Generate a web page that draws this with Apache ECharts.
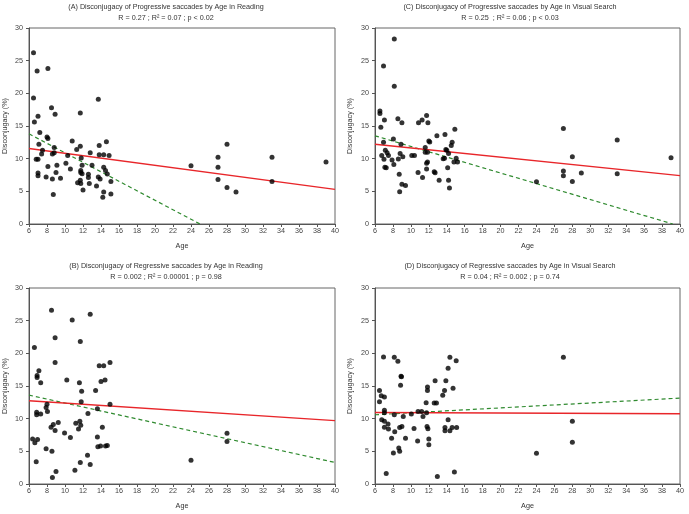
<!DOCTYPE html>
<html><head><meta charset="utf-8">
<script src="https://cdn.jsdelivr.net/npm/echarts@6/dist/echarts.min.js"></script>
<style>html,body{margin:0;padding:0;background:#fff}#c{width:689px;height:514px}</style>
</head><body><div id="c"></div><script>
// ---- data ----
const xTicks = [6, 40, 2];       // min, max, step (Age)
const yTicks = [0, 30, 5];       // min, max, step (Disconjugacy %)

const titlesA = ['(A) Disconjugacy of Progressive saccades by Age in Reading', 'R = 0.27 ; R\u00b2 = 0.07 ; p < 0.02'];
const titlesB = ['(B) Disconjugacy of Regressive saccades by Age in Reading', 'R = 0.002 ; R\u00b2 = 0.00001 ; p = 0.98'];
const titlesC = ['(C) Disconjugacy of Progressive saccades by Age in Visual Search', 'R = 0.25  ; R\u00b2 = 0.06 ; p < 0.03'];
const titlesD = ['(D) Disconjugacy of Regressive saccades by Age in Visual Search', 'R = 0.04 ; R\u00b2 = 0.002 ; p = 0.74'];

const pointsA = [[6.5,26.2],[6.9,23.4],[8.1,23.8],[6.5,19.3],[13.7,19.1],[8.5,17.8],[8.9,16.8],[11.7,17.0],[7.0,16.5],[6.6,15.6],[7.2,14.0],[8.0,13.3],[8.1,13.1],[7.1,12.2],[8.8,11.7],[10.8,12.7],[11.7,11.9],[14.6,12.6],[13.8,12.0],[7.5,11.3],[11.3,11.4],[7.4,10.7],[8.6,10.7],[8.8,10.9],[10.3,10.5],[12.8,10.9],[13.8,10.6],[14.3,10.6],[14.9,10.5],[11.8,10.1],[6.8,9.9],[7.0,9.9],[10.1,9.3],[13.0,9.0],[9.1,9.0],[8.1,8.8],[11.9,9.0],[14.3,8.7],[10.6,8.4],[14.5,8.2],[9.0,7.9],[11.75,8.2],[11.9,7.7],[11.75,7.9],[7.0,7.8],[7.0,7.4],[7.9,7.2],[9.5,7.0],[8.6,6.9],[12.6,7.6],[12.6,7.1],[13.7,7.2],[14.7,7.65],[13.9,6.9],[11.4,6.3],[11.7,6.7],[11.75,6.2],[12.7,6.2],[15.1,6.5],[13.5,5.8],[12.0,5.2],[8.7,4.5],[14.3,4.9],[15.1,4.6],[14.2,4.1],[24,8.9],[27,10.2],[27,8.7],[27,6.8],[28,12.2],[28,5.6],[29,4.9],[33,10.2],[33,6.5],[39,9.5]];
const pointsC = [[8.15,28.3],[6.95,24.2],[8.15,21.1],[6.55,17.3],[6.55,16.9],[7.05,15.9],[6.65,14.8],[8.55,16.1],[9.0,15.5],[10.85,15.5],[11.25,15.9],[11.75,16.6],[11.9,15.5],[8.05,13.0],[8.9,12.2],[6.95,12.5],[12.9,13.5],[13.8,13.7],[14.9,14.5],[12.0,12.7],[12.1,12.55],[14.6,12.5],[14.5,12.0],[7.15,11.3],[7.35,10.9],[11.6,11.7],[13.9,11.4],[14.0,11.3],[11.6,11.0],[11.85,11.0],[14.2,10.8],[7.5,10.5],[6.75,10.5],[7.0,9.9],[8.8,10.8],[9.1,10.3],[10.1,10.5],[10.4,10.5],[13.6,10.0],[13.75,10.05],[7.9,9.8],[8.1,9.1],[8.6,9.95],[15.05,10.05],[14.8,9.5],[15.2,9.5],[11.75,9.3],[11.85,9.5],[7.1,8.7],[7.25,8.6],[11.75,8.4],[14.1,8.6],[10.8,7.9],[12.6,8.0],[12.7,7.85],[8.7,7.6],[11.3,7.1],[13.15,6.7],[14.2,6.7],[9.0,6.1],[9.4,5.9],[14.3,5.5],[8.75,4.95],[24,6.45],[27,14.6],[27,8.1],[27,7.4],[28,10.3],[28,6.5],[29,7.8],[33,12.85],[33,7.7],[39,10.15]];
const pointsB = [[8.5,26.6],[10.8,25.1],[12.8,26.0],[8.9,22.4],[11.7,21.8],[6.6,20.9],[8.9,18.6],[13.8,18.1],[14.3,18.1],[15.0,18.6],[7.1,17.35],[6.9,16.6],[6.9,16.3],[7.3,15.5],[10.2,15.9],[11.6,15.5],[11.85,14.2],[14.0,15.7],[14.45,15.9],[13.4,14.3],[11.8,12.6],[15.0,12.2],[8.0,12.2],[7.9,11.7],[8.05,11.1],[6.85,11.0],[6.85,10.6],[7.3,10.7],[13.6,11.5],[12.55,10.8],[11.65,9.6],[11.2,9.3],[9.25,9.4],[8.7,9.1],[11.75,9.0],[8.45,8.7],[14.15,8.7],[11.5,8.4],[8.9,8.2],[9.95,7.8],[10.6,7.1],[13.6,7.2],[6.4,6.9],[6.95,6.8],[6.65,6.3],[13.65,5.7],[13.95,5.8],[14.5,5.8],[14.7,5.9],[7.9,5.4],[8.55,5.0],[12.5,4.4],[6.8,3.4],[11.7,3.3],[12.8,3.0],[11.1,2.1],[9.0,1.9],[8.6,1.0],[24,3.65],[28,7.75],[28,6.5]];
const pointsD = [[6.5,14.3],[6.7,13.5],[7.05,13.3],[6.5,12.6],[7.05,11.3],[7.05,10.9],[6.75,9.85],[7.05,9.6],[7.45,9.2],[7.05,8.7],[7.5,8.4],[8.15,10.6],[7.85,7.0],[8.2,8.0],[8.05,4.75],[8.65,5.5],[8.75,5.0],[8.75,8.65],[9.0,8.8],[9.15,10.35],[8.9,16.5],[8.95,16.4],[8.85,15.1],[9.4,7.0],[10.05,10.7],[10.35,8.5],[10.75,6.6],[10.8,11.1],[11.2,11.1],[11.35,10.35],[11.7,12.45],[11.75,10.9],[11.8,8.8],[11.9,8.45],[11.85,14.85],[11.85,14.3],[12.0,6.9],[12.0,6.0],[12.7,15.8],[12.6,12.4],[12.85,12.4],[12.95,1.15],[13.55,13.6],[13.75,14.3],[13.9,15.8],[13.8,8.65],[13.8,8.15],[14.15,9.85],[14.35,8.15],[14.6,8.65],[14.7,14.65],[14.85,1.85],[15.1,8.65],[7.25,1.6],[6.95,19.45],[8.15,19.4],[8.55,18.8],[14.15,17.7],[14.35,19.4],[15.05,18.85],[24,4.7],[27,19.4],[28,9.6],[28,6.4]];

// regression lines (endpoints in data units)
const redA = [[6,11.55],[40,5.3]],  greenA = [[6,13.8],[25,0]];
const redB = [[6,12.75],[40,9.7]],  greenB = [[6,13.6],[40,3.3]];
const redC = [[6,12.2],[40,7.4]],   greenC = [[6,13.5],[39.2,0]];
const redD = [[6,10.95],[40,10.75]],greenD = [[6,10.6],[40,13.15]];

// ---- layout ----
const FONT = 'Liberation Sans, Arial, sans-serif';
const FS = 7.2;
const panels = [
  {grid:{left:29, top:28, width:306, height:196}, titles:titlesA, tx:166, ty:7, pts:pointsA, red:redA, green:greenA, ng:20},
  {grid:{left:375, top:28, width:305, height:196}, titles:titlesC, tx:510, ty:7, pts:pointsC, red:redC, green:greenC, ng:21},
  {grid:{left:29, top:288, width:306, height:196}, titles:titlesB, tx:166, ty:266, pts:pointsB, red:redB, green:greenB, ng:20},
  {grid:{left:375, top:288, width:305, height:196}, titles:titlesD, tx:510, ty:266, pts:pointsD, red:redD, green:greenD, ng:21}
];

const grids = [], xAxes = [], yAxes = [], series = [], graphics = [];
panels.forEach((p, i) => {
  grids.push(Object.assign({show:true, borderColor:'#666', borderWidth:1, backgroundColor:'#fff'}, p.grid));
  xAxes.push({type:'value', gridIndex:i, min:xTicks[0], max:xTicks[1], interval:xTicks[2],
    name:'Age', nameLocation:'middle', nameGap:19,
    nameTextStyle:{fontSize:FS, color:'#333', fontFamily:FONT},
    axisLine:{show:true, lineStyle:{color:'#555', width:1}},
    axisTick:{show:true, length:3, lineStyle:{color:'#555'}},
    axisLabel:{fontSize:FS, color:'#444', fontFamily:FONT, margin:4},
    splitLine:{show:false}});
  yAxes.push({type:'value', gridIndex:i, min:yTicks[0], max:yTicks[1], interval:yTicks[2],
    name:'Disconjugacy (%)', nameLocation:'middle', nameGap:p.ng, nameRotate:90,
    nameTextStyle:{fontSize:FS, color:'#333', fontFamily:FONT},
    axisLine:{show:true, lineStyle:{color:'#555', width:1}},
    axisTick:{show:true, length:3, lineStyle:{color:'#555'}},
    axisLabel:{fontSize:FS, color:'#444', fontFamily:FONT, margin:6},
    splitLine:{show:false}});
  series.push({type:'line', xAxisIndex:i, yAxisIndex:i, data:p.green, symbol:'none', silent:true,
    lineStyle:{color:'#2f8a2f', width:1.2, type:[4,3]}, z:3});
  series.push({type:'line', xAxisIndex:i, yAxisIndex:i, data:p.red, symbol:'none', silent:true,
    lineStyle:{color:'#e8262a', width:1.4}, z:3});
  series.push({type:'scatter', xAxisIndex:i, yAxisIndex:i, data:p.pts, symbol:'circle', symbolSize:5,
    itemStyle:{color:'#000'}, z:4});
  graphics.push({type:'text', x:p.tx, y:p.ty, style:{text:p.titles[0], textAlign:'center', textVerticalAlign:'middle', fontSize:FS, fill:'#333', fontFamily:FONT}});
  graphics.push({type:'text', x:p.tx, y:p.ty+11, style:{text:p.titles[1], textAlign:'center', textVerticalAlign:'middle', fontSize:FS, fill:'#333', fontFamily:FONT}});
});

const chart = echarts.init(document.getElementById('c'), null, {renderer:'canvas'});
chart.setOption({
  animation:false,
  backgroundColor:'#fff',
  grid:grids, xAxis:xAxes, yAxis:yAxes, series:series, graphic:graphics
});
</script></body></html>
